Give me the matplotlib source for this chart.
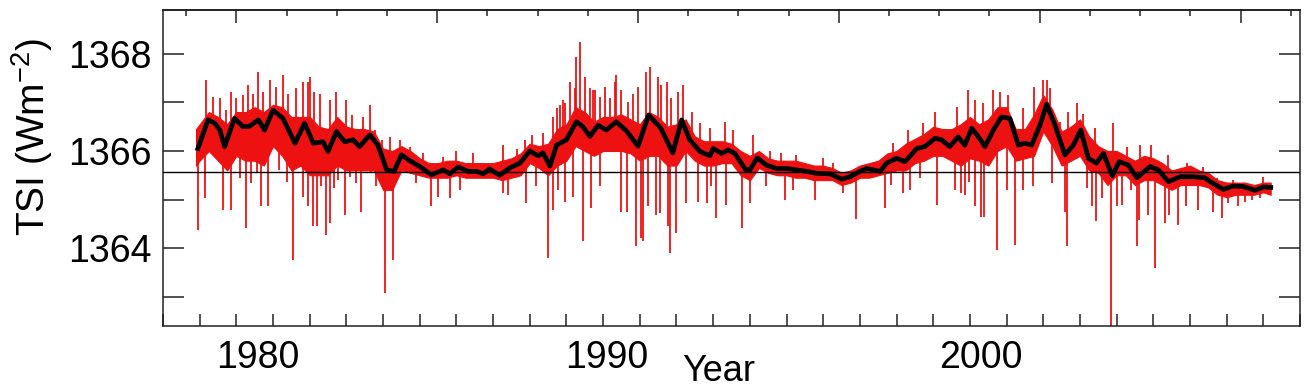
import numpy as np
import matplotlib
matplotlib.use("Agg")
import matplotlib.pyplot as plt
from matplotlib.ticker import MultipleLocator, NullFormatter
import matplotlib.transforms as mtransforms

plt.rcParams['font.family'] = ['Liberation Sans', 'DejaVu Sans']
plt.rcParams['mathtext.fontset'] = 'custom'
plt.rcParams['mathtext.rm'] = 'Liberation Sans'

# daily TSI, dense body of the red trace (upper / lower edge)
body_year = [1978.9, 1979.0, 1979.25, 1979.5, 1979.75, 1980.0, 1980.25, 1980.5, 1980.75,
             1981.0, 1981.25, 1981.5, 1981.75, 1982.0, 1982.25, 1982.5, 1982.75,
             1983.0, 1983.25, 1983.5, 1983.75, 1984.0, 1984.25, 1984.5, 1984.75,
             1985.0, 1985.25, 1985.5, 1985.75, 1986.0, 1986.25, 1986.5, 1986.75,
             1987.0, 1987.25, 1987.5, 1987.75, 1988.0, 1988.25, 1988.5, 1988.75,
             1989.0, 1989.25, 1989.5, 1989.75, 1990.0, 1990.25, 1990.5, 1990.75,
             1991.0, 1991.25, 1991.5, 1991.75, 1992.0, 1992.25, 1992.5, 1992.75,
             1993.0, 1993.25, 1993.5, 1993.75, 1994.0, 1994.25, 1994.5, 1994.75,
             1995.0, 1995.25, 1995.5, 1995.75, 1996.0, 1996.25, 1996.5, 1996.75,
             1997.0, 1997.25, 1997.5, 1997.75, 1998.0, 1998.25, 1998.5, 1998.75,
             1999.0, 1999.25, 1999.5, 1999.75, 2000.0, 2000.25, 2000.5, 2000.75,
             2001.0, 2001.25, 2001.5, 2001.75, 2002.0, 2002.25, 2002.5, 2002.75,
             2003.0, 2003.25, 2003.5, 2003.75, 2004.0, 2004.25, 2004.5, 2004.75,
             2005.0, 2005.25, 2005.5, 2005.75, 2006.0, 2006.25, 2006.5, 2006.75,
             2007.0, 2007.25, 2007.5, 2007.75, 2008.0, 2008.2]
body_upper = [1366.45, 1366.55, 1366.8, 1366.7, 1366.55, 1366.8, 1366.8, 1366.9, 1366.8,
              1366.95, 1366.9, 1366.7, 1366.7, 1366.7, 1366.5, 1366.45, 1366.7,
              1366.5, 1366.45, 1366.45, 1366.4, 1366.05, 1366.0, 1366.1, 1366.0,
              1365.85, 1365.75, 1365.75, 1365.8, 1365.8, 1365.75, 1365.75, 1365.75,
              1365.75, 1365.8, 1365.85, 1365.95, 1366.15, 1366.1, 1366.15, 1366.45,
              1366.55, 1366.9, 1366.8, 1366.6, 1366.7, 1366.7, 1366.75, 1366.65,
              1366.55, 1366.8, 1366.7, 1366.5, 1366.55, 1366.65, 1366.3, 1366.2,
              1366.2, 1366.2, 1366.15, 1366.0, 1365.9, 1366.0, 1365.85, 1365.8,
              1365.8, 1365.8, 1365.75, 1365.7, 1365.7, 1365.65, 1365.55, 1365.6,
              1365.7, 1365.75, 1365.8, 1365.95, 1366.0, 1366.15, 1366.25, 1366.35,
              1366.5, 1366.45, 1366.45, 1366.55, 1366.7, 1366.55, 1366.65, 1366.9,
              1366.9, 1366.45, 1366.45, 1366.75, 1367.15, 1366.85, 1366.4, 1366.5,
              1366.65, 1366.3, 1366.1, 1366.0, 1366.0, 1365.9, 1365.8, 1365.9,
              1365.85, 1365.75, 1365.6, 1365.65, 1365.7, 1365.6, 1365.55, 1365.4,
              1365.35, 1365.35, 1365.35, 1365.3, 1365.35, 1365.35]
body_lower = [1365.7, 1365.8, 1366.0, 1365.8, 1365.6, 1365.9, 1365.8, 1365.8, 1365.7,
              1366.1, 1365.9, 1365.6, 1365.7, 1365.5, 1365.5, 1365.5, 1365.7,
              1365.6, 1365.6, 1365.6, 1365.6, 1365.2, 1365.2, 1365.6, 1365.55,
              1365.5, 1365.45, 1365.45, 1365.45, 1365.5, 1365.45, 1365.45, 1365.45,
              1365.45, 1365.4, 1365.45, 1365.5, 1365.75, 1365.65, 1365.5, 1365.7,
              1365.8, 1366.1, 1366.0, 1365.9, 1366.0, 1366.0, 1366.0, 1365.95,
              1365.8, 1365.9, 1365.9, 1365.7, 1365.7, 1366.0, 1365.8, 1365.7,
              1365.7, 1365.75, 1365.75, 1365.5, 1365.4, 1365.65, 1365.55, 1365.5,
              1365.5, 1365.45, 1365.45, 1365.4, 1365.4, 1365.4, 1365.3, 1365.35,
              1365.45, 1365.45, 1365.5, 1365.55, 1365.6, 1365.6, 1365.75, 1365.8,
              1365.9, 1365.9, 1365.8, 1365.7, 1365.85, 1365.8, 1365.7, 1366.0,
              1366.1, 1365.8, 1365.85, 1365.9, 1366.4, 1366.1, 1365.7, 1365.8,
              1365.9, 1365.6, 1365.55, 1365.3, 1365.5, 1365.5, 1365.3, 1365.4,
              1365.4, 1365.3, 1365.2, 1365.3, 1365.3, 1365.3, 1365.25, 1365.1,
              1365.05, 1365.1, 1365.1, 1365.1, 1365.15, 1365.1]

# single-day excursions above the running mean
peak_year = [1979.18, 1979.36, 1979.55, 1979.73, 1979.86, 1980.0, 1980.18, 1980.32, 1980.45,
             1980.59, 1980.73, 1980.91, 1981.09, 1981.27, 1981.41, 1981.64, 1981.82,
             1981.95, 1982.0, 1982.12, 1982.27, 1982.55, 1982.73, 1983.0, 1983.14,
             1983.45, 1983.64, 1983.77, 1983.96, 1984.18, 1984.45, 1984.73,
             1985.09, 1985.64, 1986.0, 1986.45, 1987.27, 1987.64, 1987.86, 1988.05,
             1988.36, 1988.64, 1988.73, 1988.82, 1988.91, 1988.96, 1989.09, 1989.23,
             1989.27, 1989.37, 1989.5, 1989.64, 1989.73, 1989.77, 1989.91, 1990.05,
             1990.18, 1990.32, 1990.36, 1990.5, 1990.68, 1990.82, 1990.95, 1991.18,
             1991.27, 1991.5, 1991.59, 1991.73, 1991.86, 1992.05, 1992.18, 1992.41,
             1992.64, 1992.91, 1993.32, 1993.55, 1994.09, 1994.55, 1994.86, 1995.27,
             1996.0, 1996.27, 1997.91, 1998.32, 1998.73, 1999.05, 1999.64, 1999.95,
             2000.14, 2000.36, 2000.64, 2000.82, 2001.05, 2001.45, 2001.75, 2001.98,
             2002.09, 2002.18, 2002.45, 2002.68, 2002.91, 2003.09, 2003.41, 2003.91,
             2004.27, 2004.64, 2004.95, 2005.41, 2005.91, 2006.36, 2006.73, 2007.18,
             2008.0]
peak_tsi = [1367.46, 1367.12, 1367.08, 1366.84, 1367.22, 1367.08, 1367.15, 1367.36, 1367.18,
            1367.63, 1367.22, 1367.46, 1367.32, 1367.56, 1367.18, 1367.29, 1367.42,
            1367.42, 1367.53, 1367.22, 1367.18, 1367.05, 1367.22, 1367.05, 1366.74,
            1366.70, 1366.94, 1366.43, 1366.23, 1366.29, 1366.23, 1366.09,
            1365.95, 1365.88, 1365.99, 1365.95, 1366.12, 1366.05, 1366.23, 1366.33,
            1366.36, 1366.70, 1366.88, 1366.94, 1367.05, 1366.98, 1367.42, 1367.29,
            1367.94, 1368.24, 1367.53, 1367.29, 1367.25, 1367.25, 1367.12, 1367.32,
            1367.08, 1367.42, 1367.56, 1367.25, 1367.01, 1367.18, 1367.32, 1367.63,
            1367.73, 1367.53, 1367.36, 1367.42, 1367.08, 1367.22, 1367.36, 1366.81,
            1366.57, 1366.47, 1366.6, 1366.43, 1366.33, 1365.99, 1365.95, 1365.92,
            1365.85, 1365.75, 1366.16, 1366.43, 1366.57, 1366.81, 1366.91, 1367.25,
            1367.05, 1366.98, 1367.25, 1367.22, 1367.15, 1366.88, 1367.32, 1367.46,
            1367.46, 1367.29, 1366.6, 1366.81, 1366.98, 1366.77, 1366.47, 1366.57,
            1366.09, 1366.12, 1366.12, 1365.92, 1365.75, 1365.68, 1365.44, 1365.4,
            1365.47]

# single-day dips (sunspot passages)
dip_year = [1978.95, 1979.14, 1979.64, 1979.86, 1980.09, 1980.27, 1980.41, 1980.55, 1980.68,
            1980.86, 1981.16, 1981.38, 1981.55, 1981.82, 1981.95, 1982.09, 1982.21,
            1982.32, 1982.45, 1982.55, 1982.65, 1982.77, 1982.95, 1983.09, 1983.27,
            1983.41, 1983.68, 1983.82, 1984.05, 1984.27, 1984.91, 1985.32, 1985.5,
            1985.82, 1986.09, 1987.27, 1987.41, 1987.91, 1988.18, 1988.5, 1988.64,
            1988.77, 1988.95, 1989.18, 1989.45, 1989.68, 1989.91, 1990.5, 1990.64,
            1990.89, 1991.04, 1991.09, 1991.23, 1991.44, 1991.55, 1991.77, 1991.82,
            1992.0, 1992.25, 1992.6, 1992.82, 1992.95, 1993.09, 1993.36, 1993.78,
            1994.0, 1994.45, 1994.96, 1995.18, 1995.78, 1996.53, 1996.9, 1997.68,
            1997.86, 1998.18, 1998.36, 1998.64, 1999.11, 1999.59, 1999.77, 1999.86,
            1999.97, 2000.14, 2000.3, 2000.38, 2000.73, 2001.0, 2001.23, 2001.45,
            2001.73, 2002.25, 2002.59, 2002.64, 2003.18, 2003.32, 2003.44, 2003.59,
            2003.84, 2004.0, 2004.14, 2004.39, 2004.55, 2004.62, 2004.85, 2005.05,
            2005.32, 2005.43, 2005.68, 2005.89, 2006.23, 2006.62, 2006.86, 2007.05,
            2007.32, 2007.5, 2007.68, 2007.91]
dip_tsi = [1364.38, 1365.03, 1364.79, 1364.79, 1365.44, 1364.41, 1365.34, 1365.54, 1364.86,
           1364.86, 1365.61, 1365.37, 1363.76, 1365.06, 1364.86, 1364.45, 1364.45,
           1365.27, 1364.28, 1364.51, 1365.23, 1365.40, 1364.69, 1365.47, 1365.34,
           1364.75, 1365.54, 1365.27, 1363.08, 1363.76, 1365.34, 1364.86, 1365.06,
           1365.03, 1365.2, 1365.13, 1365.1, 1364.93, 1365.27, 1363.80, 1364.79,
           1365.2, 1364.96, 1365.06, 1364.14, 1364.82, 1365.27, 1364.75, 1364.75,
           1364.04, 1364.21, 1364.14, 1364.86, 1364.69, 1364.72, 1364.45, 1363.9,
           1364.31, 1364.93, 1364.96, 1364.93, 1365.27, 1364.62, 1364.89, 1364.41,
           1364.93, 1365.27, 1364.99, 1365.2, 1364.99, 1365.13, 1364.6, 1364.82,
           1365.3, 1365.13, 1365.2, 1365.44, 1364.89, 1365.2, 1365.13, 1365.1,
           1365.37, 1364.86, 1364.65, 1364.65, 1363.97, 1365.2, 1364.07, 1365.2,
           1365.27, 1365.34, 1364.75, 1364.04, 1365.23, 1364.86, 1364.55, 1365.03,
           1362.3, 1364.86, 1364.89, 1365.2, 1364.04, 1364.58, 1364.69, 1363.59,
           1364.51, 1364.69, 1364.48, 1364.86, 1364.79, 1364.75, 1364.62, 1364.93,
           1364.86, 1364.96, 1364.99, 1365.03]

# 81-day running mean (black)
mean_year = [1978.95, 1979.23, 1979.41, 1979.55, 1979.68, 1979.95, 1980.18, 1980.36, 1980.6,
             1980.77, 1981.0, 1981.27, 1981.6, 1981.86, 1982.1, 1982.36, 1982.5, 1982.73,
             1982.95, 1983.18, 1983.36, 1983.64, 1983.86, 1984.1, 1984.3, 1984.5, 1984.73,
             1985.0, 1985.32, 1985.64, 1985.82, 1986.05, 1986.32, 1986.55, 1986.73, 1986.9,
             1987.18, 1987.45, 1987.73, 1988.0, 1988.23, 1988.36, 1988.55, 1988.73, 1989.0,
             1989.27, 1989.45, 1989.64, 1989.86, 1990.09, 1990.36, 1990.64, 1990.95, 1991.24,
             1991.57, 1991.9, 1992.14, 1992.36, 1992.64, 1992.91, 1993.0, 1993.23, 1993.4,
             1993.59, 1993.88, 1994.0, 1994.2, 1994.45, 1994.73, 1995.0, 1995.27, 1995.55,
             1995.82, 1996.18, 1996.5, 1996.73, 1997.0, 1997.18, 1997.55, 1997.73, 1998.0,
             1998.23, 1998.55, 1998.77, 1999.05, 1999.23, 1999.45, 1999.68, 1999.86, 2000.05,
             2000.23, 2000.41, 2000.64, 2000.86, 2001.09, 2001.32, 2001.5, 2001.68, 2001.91,
             2002.09, 2002.32, 2002.59, 2002.82, 2003.02, 2003.23, 2003.45, 2003.64, 2003.88,
             2004.07, 2004.32, 2004.55, 2004.91, 2005.14, 2005.41, 2005.73, 2006.09, 2006.4,
             2006.55, 2006.91, 2007.18, 2007.45, 2007.77, 2008.0, 2008.2]
mean_tsi = [1366.05, 1366.64, 1366.57, 1366.43, 1366.09, 1366.67, 1366.50, 1366.51, 1366.64,
            1366.43, 1366.84, 1366.67, 1366.16, 1366.57, 1366.16, 1366.19, 1365.99, 1366.40,
            1366.19, 1366.23, 1366.09, 1366.33, 1366.12, 1365.61, 1365.58, 1365.92, 1365.80,
            1365.68, 1365.51, 1365.61, 1365.53, 1365.67, 1365.58, 1365.58, 1365.53, 1365.63,
            1365.50, 1365.65, 1365.75, 1366.0, 1365.9, 1365.96, 1365.69, 1366.12, 1366.23,
            1366.6, 1366.5, 1366.3, 1366.53, 1366.43, 1366.6, 1366.41, 1366.1, 1366.74,
            1366.47, 1365.96, 1366.64, 1366.23, 1365.99, 1365.9, 1366.05, 1365.95, 1366.02,
            1365.95, 1365.62, 1365.61, 1365.86, 1365.71, 1365.64, 1365.64, 1365.61, 1365.58,
            1365.54, 1365.53, 1365.42, 1365.47, 1365.58, 1365.64, 1365.58, 1365.75, 1365.85,
            1365.78, 1366.05, 1366.09, 1366.26, 1366.23, 1366.09, 1366.29, 1366.12, 1366.47,
            1366.29, 1366.09, 1366.43, 1366.70, 1366.67, 1366.12, 1366.16, 1366.12, 1366.53,
            1366.96, 1366.53, 1365.92, 1366.12, 1366.43, 1365.85, 1365.75, 1365.95, 1365.49,
            1365.78, 1365.71, 1365.45, 1365.68, 1365.61, 1365.37, 1365.47, 1365.47, 1365.45,
            1365.37, 1365.21, 1365.28, 1365.27, 1365.19, 1365.26, 1365.25]

ref_level = 1365.57
year_labels = ['1980', '1990', '2000']
year_label_pos = [1980.58, 1990.1, 2000.3]

RED = '#ee1111'

fig = plt.figure(figsize=(13.08, 3.9), dpi=100)
ax = fig.add_axes([0.1246, 0.1641, 0.8693, 0.8103])

ax.fill_between(body_year, body_lower, body_upper, color=RED, linewidth=0.8, zorder=2)
peak_base = np.interp(peak_year, mean_year, mean_tsi)
dip_base = np.interp(dip_year, mean_year, mean_tsi)
ax.vlines(peak_year, peak_base, peak_tsi, color=RED, linewidth=1.3, zorder=2)
ax.vlines(dip_year, dip_base, dip_tsi, color=RED, linewidth=1.3, zorder=2)

ax.axhline(ref_level, color='black', linewidth=1.0, zorder=3)
ax.plot(mean_year, mean_tsi, color='black', linewidth=3.4, solid_joinstyle='round', zorder=4)

ax.set_xlim(1978.0, 2009.0)
ax.set_ylim(1362.4, 1368.9)

for sp in ax.spines.values():
    sp.set_linewidth(1.1)
    sp.set_color('#222222')

ax.yaxis.set_major_locator(MultipleLocator(2))
ax.yaxis.set_minor_locator(MultipleLocator(1))
ax.yaxis.set_major_formatter(lambda v, p: f'{v:.0f}')
ax.tick_params(axis='y', which='both', direction='in', length=15, width=1.1,
               left=True, right=True, labelsize=27, pad=8, color='#222222')

ax.xaxis.set_major_locator(MultipleLocator(1))
ax.xaxis.set_major_formatter(NullFormatter())
ax.tick_params(axis='x', which='both', direction='in', length=8.5, width=1.1,
               top=False, bottom=True, color='#222222')

# top axis in days since 1980
top = ax.secondary_xaxis('top', functions=(lambda y: (y - 1980.0) * 365.25,
                                           lambda d: 1980.0 + d / 365.25))
top.xaxis.set_major_locator(MultipleLocator(2000))
top.xaxis.set_minor_locator(MultipleLocator(500))
top.xaxis.set_major_formatter(NullFormatter())
top.tick_params(which='major', direction='in', length=9.5, width=1.1, color='#222222')
top.tick_params(which='minor', direction='in', length=4.5, width=1.1, color='#222222')
top.spines['top'].set_linewidth(1.1)

trans = mtransforms.blended_transform_factory(ax.transData, ax.transAxes)
for lab, xp in zip(year_labels, year_label_pos):
    ax.text(xp, -0.133, lab, transform=trans, ha='center', va='baseline', fontsize=27)
ax.text(1993.16, -0.1985, 'Year', transform=trans, ha='center', va='bottom', fontsize=26)

ax.set_ylabel(r'TSI (Wm$^{\mathregular{-2}}$)', fontsize=28, va='center')
ax.yaxis.set_label_coords(-0.1155, 0.60)

fig.savefig('out.png', dpi=100)
